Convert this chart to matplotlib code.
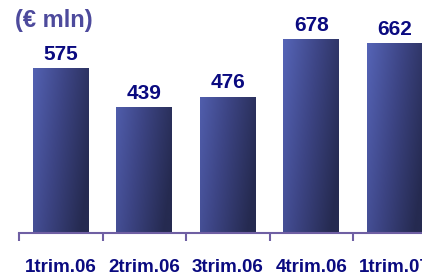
import numpy as np
import matplotlib.pyplot as plt
from matplotlib.colors import LinearSegmentedColormap

categories = ['1trim.06', '2trim.06', '3trim.06', '4trim.06', '1trim.07']
values = [575, 439, 476, 678, 662]
title = '(\u20ac mln)'

navy = '#0a0a80'
font = ['Liberation Sans', 'DejaVu Sans']

fig = plt.figure(figsize=(4.22, 2.76), dpi=100)
ax = fig.add_axes([19 / 422, 43 / 276, 403 / 422, 233 / 276])

cmap = LinearSegmentedColormap.from_list('bar', ['#5665b8', '#3d4585', '#252a50'])
width = 0.67
xs = np.linspace(0, 1, 60)
for i, v in enumerate(values):
    x0 = i - width / 2
    rect = plt.Rectangle((x0, 0), width, v, facecolor='none', edgecolor='none')
    ax.add_patch(rect)
    yy = np.linspace(v, 0, 60)
    grad = 0.75 * xs[None, :] + 0.35 * (1 - yy[:, None] / 700)
    im = ax.imshow(grad, cmap=cmap, vmin=0, vmax=1, aspect='auto',
                   extent=(x0, x0 + width, 0, v), interpolation='bilinear')
    im.set_clip_path(rect)
    ax.annotate(str(v), (i, v), xytext=(0, 3), textcoords='offset points',
                ha='center', va='bottom', fontsize=15, fontweight='bold',
                color=navy, family=font)

for s in ['top', 'right', 'left']:
    ax.spines[s].set_visible(False)
ax.spines['bottom'].set_color('#6f5fa3')
ax.spines['bottom'].set_linewidth(1.5)
ax.set_yticks([])
ax.set_xticks(range(len(categories)))
ax.set_xticklabels(categories, fontsize=13.5, fontweight='bold', color=navy,
                   family=font)
ax.tick_params(axis='x', which='major', length=0, pad=19)
ax.set_xticks(np.arange(-0.5, len(categories), 1), minor=True)
ax.tick_params(axis='x', which='minor', length=6, width=1.5,
               color='#6f5fa3', direction='out')

# ticks and imshow move the limits, so set them last
ax.set_xlim(-0.5, -0.5 + 403 / 83.5)
ax.set_ylim(0, 813)

fig.text(15 / 422, 1 - 21 / 276, title, fontsize=17, fontweight='bold',
         color='#4d4a9c', va='center', ha='left', family=font)

fig.savefig('out.png', dpi=100)
